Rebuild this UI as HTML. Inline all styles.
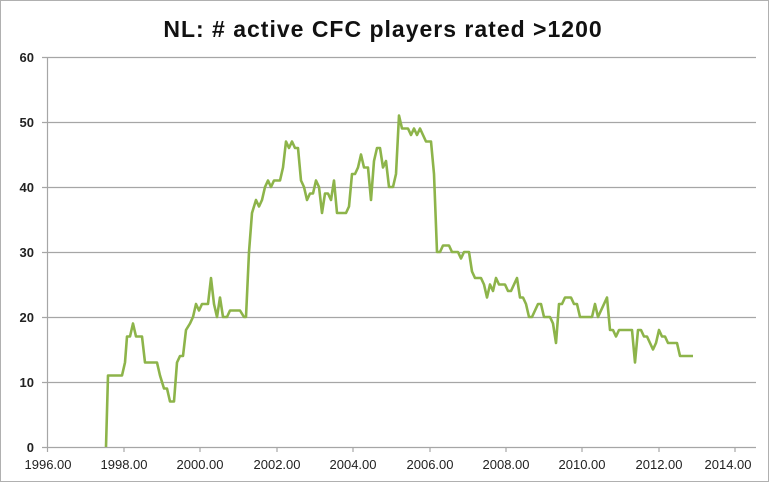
<!DOCTYPE html>
<html><head><meta charset="utf-8"><style>
body{margin:0;background:#fff;}
svg text{font-family:"Liberation Sans",sans-serif;}
</style></head><body>
<svg width="770" height="483" viewBox="0 0 770 483" xmlns="http://www.w3.org/2000/svg">
<rect x="0.5" y="0.5" width="768" height="481" fill="#fff" stroke="#b0b0b0"/>
<text x="383" y="37" text-anchor="middle" font-size="23" font-weight="bold" letter-spacing="1" fill="#111">NL:  # active CFC players rated &gt;1200</text>
<g stroke="#a6a6a6" stroke-width="1.2">
<line x1="42" y1="57.5" x2="756" y2="57.5"/>
<line x1="42" y1="122.5" x2="756" y2="122.5"/>
<line x1="42" y1="187.5" x2="756" y2="187.5"/>
<line x1="42" y1="252.5" x2="756" y2="252.5"/>
<line x1="42" y1="317.5" x2="756" y2="317.5"/>
<line x1="42" y1="382.5" x2="756" y2="382.5"/>
<line x1="42" y1="447.5" x2="756" y2="447.5"/>
<line x1="47.5" y1="57" x2="47.5" y2="452"/>
<line x1="124" y1="447" x2="124" y2="452"/><line x1="200" y1="447" x2="200" y2="452"/><line x1="277" y1="447" x2="277" y2="452"/><line x1="353" y1="447" x2="353" y2="452"/><line x1="430" y1="447" x2="430" y2="452"/><line x1="506" y1="447" x2="506" y2="452"/><line x1="582" y1="447" x2="582" y2="452"/><line x1="659" y1="447" x2="659" y2="452"/><line x1="735" y1="447" x2="735" y2="452"/>
</g>
<g font-size="13" font-weight="bold" fill="#222" text-anchor="end">
<text x="34" y="62">60</text><text x="34" y="127">50</text><text x="34" y="192">40</text><text x="34" y="257">30</text><text x="34" y="322">20</text><text x="34" y="387">10</text><text x="34" y="452">0</text>
</g>
<g font-size="13" fill="#222" text-anchor="middle">
<text x="48" y="469">1996.00</text><text x="124" y="469">1998.00</text><text x="200" y="469">2000.00</text><text x="277" y="469">2002.00</text><text x="353" y="469">2004.00</text><text x="430" y="469">2006.00</text><text x="506" y="469">2008.00</text><text x="582" y="469">2010.00</text><text x="659" y="469">2012.00</text><text x="728" y="469">2014.00</text>
</g>
<polyline id="s" fill="none" stroke="#8db44a" stroke-width="2.6" stroke-linejoin="round"/>
</svg>
<script>
var d=[104,0,106,11,120,11,123,13,125,17,128,17,131,19,134,17,140,17,143,13,155,13,158,11,162,9,165,9,168,7,172,7,175,13,178,14,181,14,184,18,188,19,191,20,194,22,197,21,200,22,206,22,209,26,212,22,215,20,218,23,221,20,225,20,228,21,238,21,242,20,244,20,247,30,250,36,254,38,257,37,260,38,263,40,266,41,269,40,272,41,278,41,281,43,284,47,287,46,290,47,293,46,296,46,299,41,302,40,305,38,308,39,311,39,314,41,317,40,320,36,323,39,326,39,329,38,332,41,335,36,344,36,347,37,350,42,353,42,356,43,359,45,362,43,366,43,369,38,372,44,375,46,378,46,381,43,384,44,387,40,391,40,394,42,397,51,400,49,406,49,409,48,412,49,415,48,418,49,421,48,424,47,429,47,432,42,435,30,438,30,441,31,447,31,450,30,456,30,459,29,462,30,467,30,470,27,473,26,479,26,482,25,485,23,488,25,491,24,494,26,497,25,503,25,506,24,509,24,512,25,515,26,518,23,521,23,524,22,527,20,530,20,533,21,536,22,539,22,542,20,548,20,551,19,554,16,557,22,560,22,563,23,569,23,572,22,575,22,578,20,590,20,593,22,596,20,599,21,602,22,605,23,608,18,611,18,614,17,617,18,627,18,630,18,633,13,636,18,639,18,642,17,645,17,648,16,651,15,654,16,657,18,660,17,663,17,666,16,672,16,675,16,678,14,691,14];
var p=[];for(var i=0;i<d.length;i+=2){p.push((d[i]+2)+","+(447-d[i+1]*6.5).toFixed(1));}
document.getElementById("s").setAttribute("points",p.join(" "));
</script>
</body></html>
